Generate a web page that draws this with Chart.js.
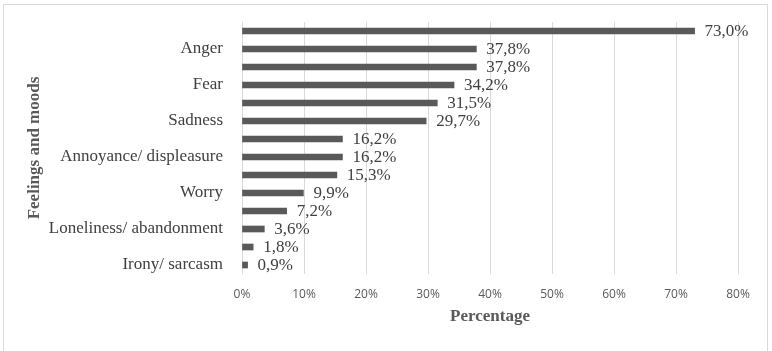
<!DOCTYPE html>
<html>
<head>
<meta charset="utf-8">
<script src="https://cdn.jsdelivr.net/npm/chart.js@4.4.0/dist/chart.umd.min.js"></script>
<style>
  html, body { margin: 0; padding: 0; background: #fff; overflow: hidden; }
  #frame { position: absolute; left: 3px; top: 4px; width: 763px; height: 360px; border: 1px solid #d9d9d9; }
  #frame canvas { display: block; }
</style>
</head>
<body>
<div id="frame"><canvas id="moodsChart" width="763" height="346"></canvas></div>
<script>
// categorias (solo se ven una de cada dos en el original)
const moods = ['', 'Anger', '', 'Fear', '', 'Sadness', '', 'Annoyance/ displeasure',
               '', 'Worry', '', 'Loneliness/ abandonment', '', 'Irony/ sarcasm'];
// porcentajes
const percentages = [73.0, 37.8, 37.8, 34.2, 31.5, 29.7, 16.2, 16.2, 15.3, 9.9, 7.2, 3.6, 1.8, 0.9];
const xTicks = [0, 10, 20, 30, 40, 50, 60, 70, 80];

const serif = '"Liberation Serif", "Times New Roman", serif';

// etiquetas de valor al final de cada barra
const valueLabels = {
    id: 'valueLabels',
    afterDatasetsDraw(chart) {
        let ctx = chart.ctx;
        let meta = chart.getDatasetMeta(0);
        ctx.save();
        ctx.font = '17px ' + serif;
        ctx.fillStyle = '#404040';
        ctx.textBaseline = 'middle';
        meta.data.forEach((bar, i) => {
            let txt = percentages[i].toFixed(1).replace('.', ',') + '%';
            ctx.fillText(txt, bar.x + 10, bar.y + 1);
        });
        ctx.restore();
    }
};

let ctx = document.getElementById('moodsChart').getContext('2d');
let moodsChart = new Chart(ctx, {
    type: 'bar',
    data: {
        labels: moods,
        datasets: [{
            data: percentages,
            backgroundColor: '#595959',
            barThickness: 6
        }]
    },
    options: {
        indexAxis: 'y',
        responsive: false,
        animation: false,
        layout: { padding: { top: 17, right: 29, left: 0, bottom: 0 } },
        plugins: {
            legend: { display: false },
            tooltip: { enabled: false }
        },
        scales: {
            x: {
                min: xTicks[0],
                max: xTicks[xTicks.length - 1],
                afterBuildTicks: s => { s.ticks = xTicks.map(v => ({ value: v })); },
                afterFit: s => { s.height = 77; s.paddingLeft = 0; s.paddingRight = 0; },
                ticks: {
                    callback: v => v + '%',
                    color: '#595959',
                    font: { family: '"Open Sans", sans-serif', size: 12 },
                    padding: 13
                },
                grid: { color: '#d9d9d9', drawTicks: false },
                border: { display: false },
                title: {
                    display: true,
                    text: 'Percentage',
                    color: '#595959',
                    font: { family: serif, size: 17, weight: 'bold' },
                    padding: { top: 0, bottom: 24 }
                }
            },
            y: {
                afterFit: s => { s.width = 238; s.paddingTop = 0; s.paddingBottom = 0; },
                ticks: {
                    autoSkip: false,
                    color: '#404040',
                    font: { family: serif, size: 17 },
                    padding: 19
                },
                grid: { display: false, drawTicks: false },
                border: { display: false },
                title: {
                    display: true,
                    text: 'Feelings and moods',
                    color: '#595959',
                    font: { family: serif, size: 17, weight: 'bold' },
                    padding: { top: 20, bottom: 0 }
                }
            }
        }
    },
    plugins: [valueLabels]
});
</script>
</body>
</html>
